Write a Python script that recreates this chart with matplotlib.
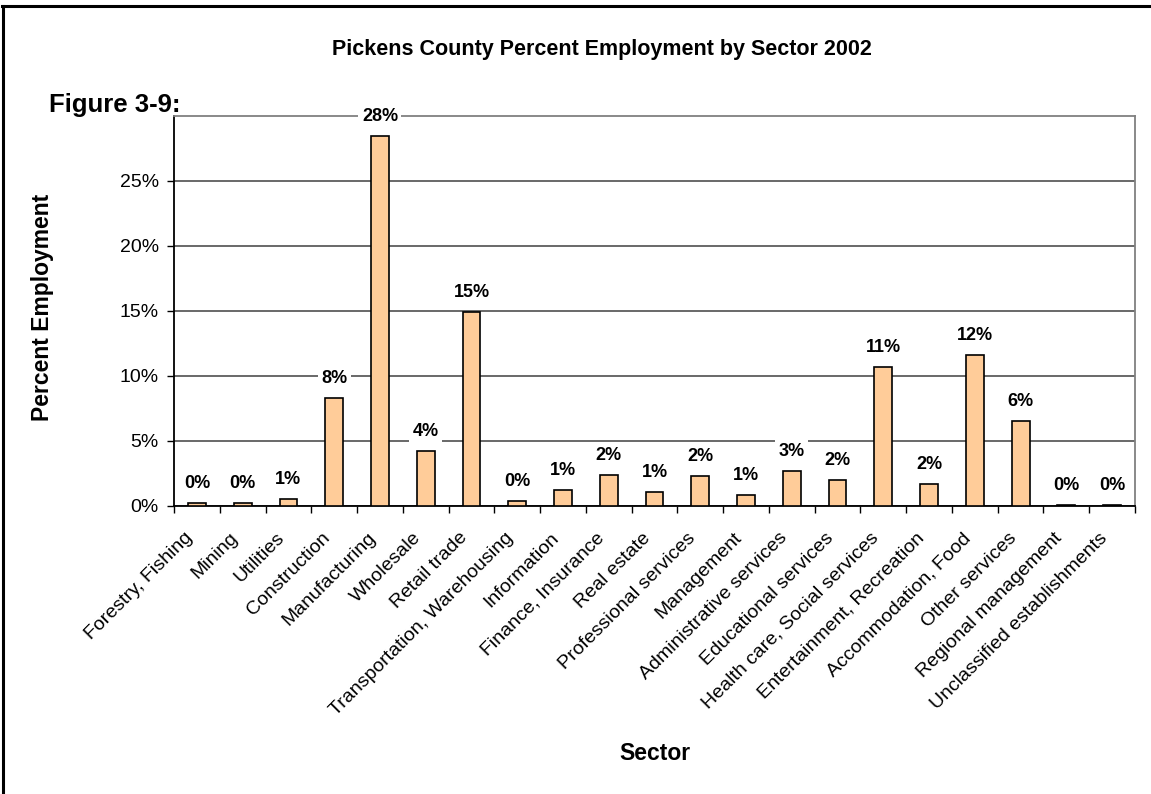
import matplotlib.pyplot as plt
from matplotlib.lines import Line2D
from matplotlib.ticker import FuncFormatter, FixedLocator
from matplotlib.transforms import ScaledTranslation

plt.rcParams['font.family'] = ['Liberation Sans', 'DejaVu Sans']

sectors = ['Forestry, Fishing', 'Mining', 'Utilities', 'Construction', 'Manufacturing',
           'Wholesale', 'Retail trade', 'Transportation, Warehousing', 'Information',
           'Finance, Insurance', 'Real estate', 'Professional services', 'Management',
           'Administrative services', 'Educational services', 'Health care, Social services',
           'Entertainment, Recreation', 'Accommodation, Food', 'Other services',
           'Regional management', 'Unclassified establishments']
percent = [0.20, 0.20, 0.54, 8.3, 28.46, 4.2, 14.92, 0.36, 1.23, 2.38, 1.08, 2.26, 0.8,
           2.69, 1.98, 10.7, 1.69, 11.6, 6.5, 0.03, 0.03]
percent = [p / 100 for p in percent]
yticks = [0, 0.05, 0.10, 0.15, 0.20, 0.25]

fig = plt.figure(figsize=(11.51, 7.94), dpi=100)
ax = fig.add_axes([0.1512, 0.3631, 0.9861 - 0.1512, 0.8543 - 0.3631])

x = list(range(len(sectors)))
ax.bar(x, percent, width=0.39, color='#FFCC99', edgecolor='black', linewidth=1.2, zorder=3)

for xi, p in zip(x, percent):
    ax.annotate(f'{p * 100:.0f}%', (xi, p), xytext=(0, 14), textcoords='offset points',
                ha='center', va='center', fontsize=13, fontweight='bold', zorder=5,
                bbox=dict(facecolor='white', edgecolor='none', pad=2.5))

ax.set_xlim(-0.5, len(sectors) - 0.5)
ax.set_ylim(0, 0.30)
ax.yaxis.set_major_locator(FixedLocator(yticks))
ax.yaxis.set_major_formatter(FuncFormatter(lambda v, _: f'{v * 100:.0f}%'))
ax.grid(axis='y', color='#404040', linewidth=1.1, zorder=0)
ax.set_axisbelow(True)

ax.set_xticks(x)
ax.set_xticklabels(sectors, rotation=45, ha='right', va='top', rotation_mode='anchor', fontsize=14)
ax.set_xticks([i - 0.5 for i in range(len(sectors) + 1)], minor=True)
ax.tick_params(axis='x', which='major', length=0, pad=17)
ax.tick_params(axis='x', which='minor', length=5, width=1, direction='out')
ax.tick_params(axis='y', length=5, width=1, direction='out', labelsize=14, pad=6)
shift = ScaledTranslation(-0.13, 0, fig.dpi_scale_trans)
for lab in ax.get_xticklabels():
    lab.set_transform(lab.get_transform() + shift)

for side in ['left', 'bottom']:
    ax.spines[side].set_linewidth(1.3)
    ax.spines[side].set_color('black')
for side in ['top', 'right']:
    ax.spines[side].set_linewidth(1.3)
    ax.spines[side].set_color('#808080')

fig.text(0.5686, 1 - 754 / 794, 'Sector', ha='center', va='center', fontsize=16.5, fontweight='bold')
fig.text(43 / 1151, 1 - 307 / 794, 'Percent Employment', rotation=90, ha='center', va='center',
         fontsize=16.5, fontweight='bold')

fig.text(602 / 1151, 1 - 49 / 794, 'Pickens County Percent Employment by Sector 2002', ha='center',
         va='center', fontsize=15.5, fontweight='bold')
fig.text(49 / 1151, 1 - 105 / 794, 'Figure 3-9:', ha='left', va='center', fontsize=18.5, fontweight='bold')

# border on top and left like the report page
fig.add_artist(Line2D([0.0025, 0.0025], [0, 0.9925], transform=fig.transFigure, color='black', linewidth=2.2))
fig.add_artist(Line2D([0.0015, 1.0], [0.9925, 0.9925], transform=fig.transFigure, color='black', linewidth=2.2))

fig.savefig('out.png', dpi=100)
